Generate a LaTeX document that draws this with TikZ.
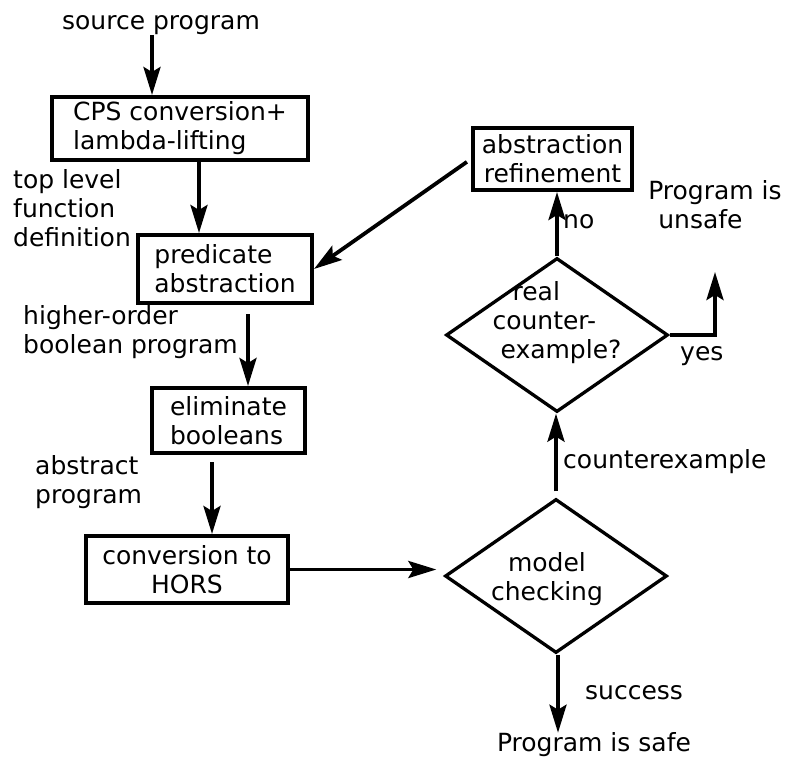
\documentclass[tikz,border=0pt]{standalone}
\usepackage{fontspec}
\setmainfont{DejaVu Sans}
\usetikzlibrary{shapes.geometric,arrows.meta}
\begin{document}
\begin{tikzpicture}[x=1pt,y=-1pt,
  txt/.style={font=\fontsize{25}{29}\selectfont, inner sep=0pt},
  box/.style={txt, draw, line width=4pt, align=left},
  dia/.style={draw, diamond, line width=3.3pt, inner sep=0pt, minimum width=222pt, minimum height=154pt},
  arr/.style={line width=3.8pt, -{Stealth[length=28pt,width=17pt,inset=5pt]}},
  lbl/.style={txt, align=left, anchor=west}]
\useasboundingbox (0,0) rectangle (785,760);
% nodes
\node[txt] (src) at (161,25) {source program};
\node[box, minimum width=256pt, minimum height=63pt] (b1) at (180,128.5) {CPS conversion+\\lambda-lifting};
\node[box, minimum width=174pt, minimum height=68pt] (b2) at (225,269) {predicate\\abstraction};
\node[box, minimum width=153pt, minimum height=65pt] (b3) at (228.5,420.5) {eliminate\\booleans};
\node[box, align=center, minimum width=202pt, minimum height=67pt] (b4) at (187,569.5) {conversion to\\HORS};
\node[box, align=center, minimum width=159pt, minimum height=62pt] (b5) at (552.5,159) {abstraction\\refinement};
\node[dia] (md) at (556,576) {};
\node[txt, align=center] (mdt) at (547,579) {model\\checking};
\node[dia] (rc) at (557,335) {};
\node[txt, align=left] (rct) at (557,323) {\hspace*{20pt}real\\counter-\\\hspace*{8pt}example?};
% labels
\node[lbl] (l1) at (13,208) {top level\\function\\definition};
\node[lbl] (l2) at (23,332) {higher-order\\boolean program};
\node[lbl] (l3) at (35,482) {abstract\\program};
\node[lbl] (l4) at (563,462) {counterexample};
\node[lbl] (l5) at (563,222) {no};
\node[lbl] (l6) at (680,356) {yes};
\node[lbl] (l7) at (585,693) {success};
\node[txt] (safe) at (594,745) {Program is safe};
\node[txt, align=left] (unsafe) at (715,205) {Program is\\\hspace*{10pt}unsafe};
\coordinate (ytip) at (715,272);
% arrows
\draw[arr] ([xshift=-9pt]src.south) -- ([xshift=-9pt]src.south |- b1.north);
\draw[arr] ([xshift=19pt]b1.south) -- ([xshift=19pt]b1.south |- b2.north);
\draw[arr] ([xshift=23pt,yshift=-9pt]b2.south) -- ([xshift=23pt]b2.south |- b3.north);
\draw[arr] ([xshift=-16.5pt,yshift=-7pt]b3.south) -- ([xshift=-16.5pt]b3.south |- b4.north);
\draw[arr, shorten >=7pt] (b4.east) -- (b4.east -| md.west);
\draw[arr] ([xshift=2pt]md.south) -- ([xshift=2pt]md.south |- safe.north);
\draw[arr] ([yshift=6pt]md.north) -- (md.north |- rc.south);
\draw[arr] (rc.north) -- (rc.north |- b5.south);
\draw[arr] (rc.east) -- (rc.east -| ytip) -- (ytip);
\draw[arr, shorten <=5pt] (b5.west) -- (b2.east);
\end{tikzpicture}
\end{document}
